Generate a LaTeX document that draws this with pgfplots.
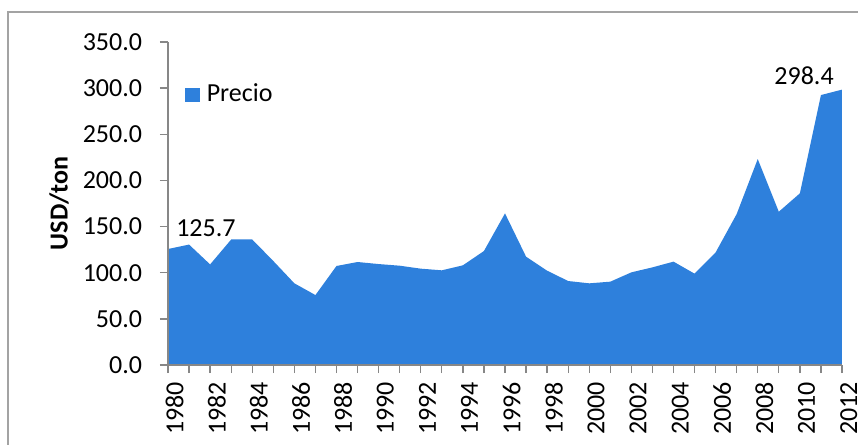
\documentclass[border=0pt]{standalone}
\usepackage{fontspec}
\setmainfont{Carlito}
\usepackage{pgfplots}
\pgfplotsset{compat=1.18}
\definecolor{prBlue}{HTML}{2E80DC}
\definecolor{prAxis}{HTML}{878787}
\definecolor{prFrame}{HTML}{A3A3A3}

\begin{document}
\begin{tikzpicture}
\fontsize{19.5}{23}\selectfont
\begin{axis}[
  scale only axis,
  width=505.5pt, height=242.25pt,
  xmin=1980, xmax=2012, ymin=0, ymax=350,
  axis lines=left, axis line style={-,color=prAxis,line width=1pt},
  axis on top, clip=false,
  xtick={1980,1982,...,2012},
  minor xtick={1981,1983,...,2011},
  ytick={0,50,...,350},
  tick align=outside, tick style={color=prAxis,line width=1pt},
  major tick length=6pt, minor tick length=6pt,
  tick label style={font=\fontsize{19.5}{23}\selectfont},
  /pgf/number format/assume math mode=true,
  yticklabel style={xshift=-6.75pt,/pgf/number format/.cd,fixed,fixed zerofill,precision=1},
  xticklabel style={rotate=90,anchor=east,yshift=-5pt,/pgf/number format/1000 sep={}},
  ylabel={\bfseries USD/ton},
  ylabel style={at={(axis description cs:-0.1617,0.5)},anchor=center,
                font=\fontsize{19.5}{23}\selectfont},
  legend style={at={(rel axis cs:0.025,0.836)},anchor=west,draw=none,fill=none,
                inner sep=0pt,font=\fontsize{19.5}{23}\selectfont},
  legend image code/.code={\fill[prBlue] (0pt,-5.6pt) rectangle (11.25pt,5.6pt);
                           \path (14.25pt,0pt);},
]
\addplot[fill=prBlue,draw=none] coordinates {
  (1980,125.7)(1981,130.5)(1982,109.0)(1983,136.0)(1984,136.0)
  (1985,112.7)(1986,88.5)(1987,75.8)(1988,107.3)(1989,111.6)
  (1990,109.4)(1991,107.6)(1992,104.4)(1993,102.6)(1994,108.0)
  (1995,123.5)(1996,164.3)(1997,117.4)(1998,102.2)(1999,91.0)
  (2000,88.5)(2001,90.3)(2002,100.4)(2003,105.8)(2004,112.0)
  (2005,99.0)(2006,122.0)(2007,163.6)(2008,223.2)(2009,166.1)
  (2010,186.0)(2011,292.5)(2012,298.4)
} \closedcycle;
\addlegendentry{Precio}
\node at (axis cs:1981.8,148.5) {125.7};
\node at (axis cs:2010.2,313.9) {298.4};
\end{axis}
\draw[prFrame,line width=0.9pt] (-120pt,-100pt) rectangle (560pt,264.75pt);
\pgfresetboundingbox
\useasboundingbox (-126pt,-59.25pt) rectangle (517.5pt,273.75pt);
\end{tikzpicture}
\end{document}
